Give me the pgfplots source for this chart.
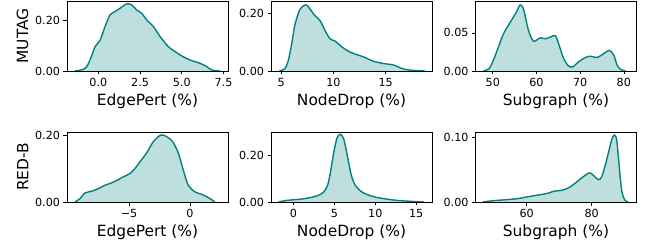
\documentclass[border=0pt]{standalone}
\usepackage{fontspec}
\setmainfont{DejaVu Sans}
\usepackage{pgfplots}
\pgfplotsset{compat=1.18}
\pgfplotsset{
  kde/.style={
    scale only axis, width=161bp, height=70bp, anchor=south west,
    axis on top, ymin=0,
    axis line style={line width=0.6bp, black},
    tick style={line width=0.6bp, black},
    major tick length=3.5bp, tick align=outside,
    xtick pos=bottom, ytick pos=left,
    ticklabel style={font=\fontsize{11.2}{12}\selectfont},
    label style={font=\fontsize{15.5}{17}\selectfont},
    xticklabel style={yshift=0bp},
  },
  fillk/.style={fill=teal, fill opacity=0.25, draw=none, smooth},
  linek/.style={draw=teal, line width=1.4bp, smooth, no marks},
}
\begin{document}
\begin{tikzpicture}
\path[use as bounding box] (0,0) rectangle (652bp,247bp);
% ---- top row: MUTAG
\begin{axis}[kde, at={(67bp,176bp)}, xmin=-1.88, xmax=7.77, ymax=0.2745,
  xtick={0,2.5,5,7.5}, xticklabels={0.0,2.5,5.0,7.5},
  ytick={0,0.2}, yticklabels={0.00,0.20},
  xlabel={EdgePert (\%)}, ylabel={MUTAG}]
\addplot[fillk] coordinates {(-1.40,0) (-0.80,0.010) (-0.50,0.043) (-0.20,0.095) (0.10,0.12) (0.40,0.174) (0.70,0.22) (1.00,0.233) (1.30,0.246) (1.70,0.263) (2.00,0.259) (2.30,0.239) (2.60,0.226) (2.90,0.20) (3.30,0.174) (3.70,0.135) (4.20,0.095) (4.60,0.076) (5.00,0.059) (5.50,0.043) (6.10,0.03) (6.50,0.017) (6.80,0.004) (7.30,0)} \closedcycle;
\addplot[linek] coordinates {(-1.40,0) (-0.80,0.010) (-0.50,0.043) (-0.20,0.095) (0.10,0.12) (0.40,0.174) (0.70,0.22) (1.00,0.233) (1.30,0.246) (1.70,0.263) (2.00,0.259) (2.30,0.239) (2.60,0.226) (2.90,0.20) (3.30,0.174) (3.70,0.135) (4.20,0.095) (4.60,0.076) (5.00,0.059) (5.50,0.043) (6.10,0.03) (6.50,0.017) (6.80,0.004) (7.30,0)};
\end{axis}
\begin{axis}[kde, at={(271bp,176bp)}, xmin=4.04, xmax=19.42, ymax=0.2434,
  xtick={5,10,15}, xticklabels={5,10,15},
  ytick={0,0.2}, yticklabels={0.00,0.20},
  xlabel={NodeDrop (\%)}]
\addplot[fillk] coordinates {(4.84,0) (5.38,0.009) (5.70,0.038) (6.02,0.095) (6.34,0.163) (6.82,0.215) (7.39,0.23) (7.77,0.215) (8.25,0.192) (8.73,0.175) (9.20,0.141) (9.68,0.112) (10.16,0.104) (10.64,0.089) (11.27,0.072) (11.90,0.061) (12.87,0.049) (13.82,0.034) (14.78,0.026) (15.73,0.021) (16.53,0.009) (17.32,0.003) (18.76,0)} \closedcycle;
\addplot[linek] coordinates {(4.84,0) (5.38,0.009) (5.70,0.038) (6.02,0.095) (6.34,0.163) (6.82,0.215) (7.39,0.23) (7.77,0.215) (8.25,0.192) (8.73,0.175) (9.20,0.141) (9.68,0.112) (10.16,0.104) (10.64,0.089) (11.27,0.072) (11.90,0.061) (12.87,0.049) (13.82,0.034) (14.78,0.026) (15.73,0.021) (16.53,0.009) (17.32,0.003) (18.76,0)};
\end{axis}
\begin{axis}[kde, at={(475.5bp,176bp)}, xmin=46.05, xmax=82.9, ymax=0.0918,
  xtick={50,60,70,80}, xticklabels={50,60,70,80},
  ytick={0,0.05}, yticklabels={0.00,0.05},
  xlabel={Subgraph (\%)}]
\addplot[fillk] coordinates {(47.86,0) (49.2,0.0034) (50.15,0.0142) (51.3,0.0315) (52.45,0.0487) (53.98,0.0638) (55.36,0.0767) (56.27,0.0866) (57.04,0.081) (58.19,0.053) (59.33,0.0392) (60.86,0.0435) (62.01,0.0422) (63.16,0.0444) (64.3,0.0465) (65.07,0.0358) (66.22,0.0164) (67.37,0.0065) (68.36,0.0056) (69.66,0.0121) (71.19,0.0177) (72.34,0.0194) (73.87,0.0177) (75.4,0.0228) (76.7,0.0271) (77.7,0.0207) (78.46,0.0078) (79.23,0.0022) (80.37,0)} \closedcycle;
\addplot[linek] coordinates {(47.86,0) (49.2,0.0034) (50.15,0.0142) (51.3,0.0315) (52.45,0.0487) (53.98,0.0638) (55.36,0.0767) (56.27,0.0866) (57.04,0.081) (58.19,0.053) (59.33,0.0392) (60.86,0.0435) (62.01,0.0422) (63.16,0.0444) (64.3,0.0465) (65.07,0.0358) (66.22,0.0164) (67.37,0.0065) (68.36,0.0056) (69.66,0.0121) (71.19,0.0177) (72.34,0.0194) (73.87,0.0177) (75.4,0.0228) (76.7,0.0271) (77.7,0.0207) (78.46,0.0078) (79.23,0.0022) (80.37,0)};
\end{axis}
% ---- bottom row: RED-B
\begin{axis}[kde, at={(67bp,45bp)}, xmin=-10.08, xmax=3.11, ymax=0.209,
  xtick={-5,0}, xticklabels={−5,0},
  ytick={0,0.2}, yticklabels={0.00,0.20},
  xlabel={EdgePert (\%)}, ylabel={RED-B}]
\addplot[fillk] coordinates {(-9.43,0) (-9.02,0.01) (-8.61,0.027) (-8.06,0.032) (-7.52,0.04) (-6.97,0.05) (-6.43,0.057) (-5.87,0.067) (-5.47,0.075) (-4.92,0.085) (-4.51,0.1) (-4.10,0.12) (-3.55,0.147) (-3.01,0.18) (-2.40,0.2) (-1.91,0.195) (-1.42,0.18) (-0.95,0.145) (-0.55,0.095) (-0.14,0.05) (0.41,0.03) (0.95,0.023) (1.51,0.013) (2.05,0)} \closedcycle;
\addplot[linek] coordinates {(-9.43,0) (-9.02,0.01) (-8.61,0.027) (-8.06,0.032) (-7.52,0.04) (-6.97,0.05) (-6.43,0.057) (-5.87,0.067) (-5.47,0.075) (-4.92,0.085) (-4.51,0.1) (-4.10,0.12) (-3.55,0.147) (-3.01,0.18) (-2.40,0.2) (-1.91,0.195) (-1.42,0.18) (-0.95,0.145) (-0.55,0.095) (-0.14,0.05) (0.41,0.03) (0.95,0.023) (1.51,0.013) (2.05,0)};
\end{axis}
\begin{axis}[kde, at={(271bp,45bp)}, xmin=-2.75, xmax=16.93, ymax=0.303,
  xtick={0,5,10,15}, xticklabels={0,5,10,15},
  ytick={0,0.2}, yticklabels={0.00,0.20},
  xlabel={NodeDrop (\%)}]
\addplot[fillk] coordinates {(-1.84,0) (-0.82,0.007) (0.81,0.012) (2.04,0.019) (3.06,0.029) (3.68,0.043) (4.16,0.072) (4.49,0.123) (4.90,0.21) (5.30,0.275) (5.71,0.293) (6.12,0.275) (6.53,0.21) (7.02,0.123) (7.55,0.072) (8.37,0.043) (9.59,0.025) (11.02,0.0145) (12.65,0.007) (14.28,0.003) (15.98,0)} \closedcycle;
\addplot[linek] coordinates {(-1.84,0) (-0.82,0.007) (0.81,0.012) (2.04,0.019) (3.06,0.029) (3.68,0.043) (4.16,0.072) (4.49,0.123) (4.90,0.21) (5.30,0.275) (5.71,0.293) (6.12,0.275) (6.53,0.21) (7.02,0.123) (7.55,0.072) (8.37,0.043) (9.59,0.025) (11.02,0.0145) (12.65,0.007) (14.28,0.003) (15.98,0)};
\end{axis}
\begin{axis}[kde, at={(475.5bp,45bp)}, xmin=44.25, xmax=93.8, ymax=0.1082,
  xtick={60,80}, xticklabels={60,80},
  ytick={0,0.1}, yticklabels={0.00,0.10},
  xlabel={Subgraph (\%)}]
\addplot[fillk] coordinates {(46.46,0) (49.7,0.002) (53.85,0.0036) (56.9,0.005) (60,0.0078) (63.1,0.0104) (66.15,0.013) (68.7,0.017) (70.77,0.018) (73.3,0.023) (75.4,0.031) (77.4,0.039) (79.3,0.045) (80.5,0.0414) (82.05,0.0347) (83.1,0.039) (84.6,0.0648) (86.15,0.0958) (86.97,0.1036) (87.7,0.0958) (88.4,0.0596) (89.23,0.018) (90.26,0.0026) (91.28,0)} \closedcycle;
\addplot[linek] coordinates {(46.46,0) (49.7,0.002) (53.85,0.0036) (56.9,0.005) (60,0.0078) (63.1,0.0104) (66.15,0.013) (68.7,0.017) (70.77,0.018) (73.3,0.023) (75.4,0.031) (77.4,0.039) (79.3,0.045) (80.5,0.0414) (82.05,0.0347) (83.1,0.039) (84.6,0.0648) (86.15,0.0958) (86.97,0.1036) (87.7,0.0958) (88.4,0.0596) (89.23,0.018) (90.26,0.0026) (91.28,0)};
\end{axis}
\end{tikzpicture}
\end{document}
